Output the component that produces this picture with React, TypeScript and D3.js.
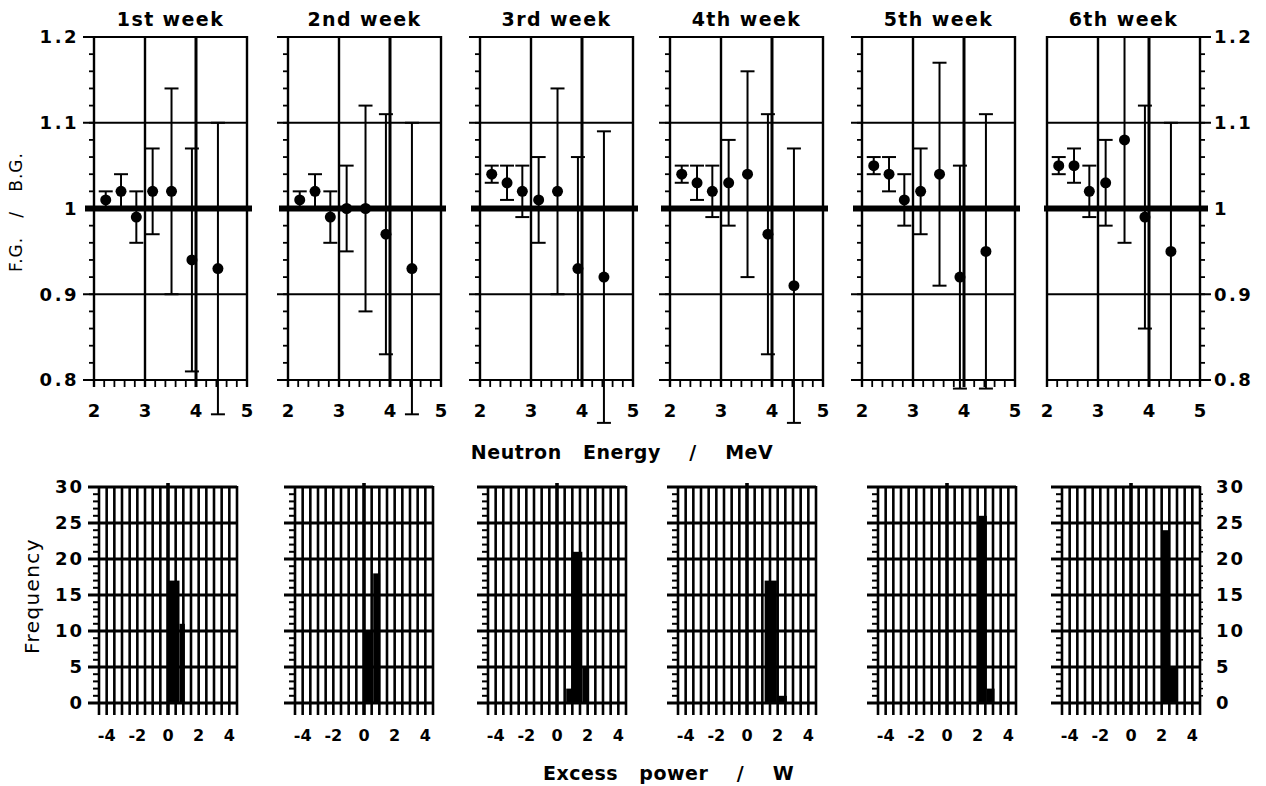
import React from "react";
import * as d3 from "d3";

// ---------- data ----------
const WEEK_TITLES = ["1st week", "2nd week", "3rd week", "4th week", "5th week", "6th week"];
const ENERGY_MEV = [2.23, 2.53, 2.83, 3.15, 3.52, 3.92, 4.43];

const RATIO_W1 = [1.01, 1.02, 0.99, 1.02, 1.02, 0.94, 0.93];
const ERR_W1 = [0.01, 0.02, 0.03, 0.05, 0.12, 0.13, 0.17];
const RATIO_W2 = [1.01, 1.02, 0.99, 1.0, 1.0, 0.97, 0.93];
const ERR_W2 = [0.01, 0.02, 0.03, 0.05, 0.12, 0.14, 0.17];
const RATIO_W3 = [1.04, 1.03, 1.02, 1.01, 1.02, 0.93, 0.92];
const ERR_W3 = [0.01, 0.02, 0.03, 0.05, 0.12, 0.13, 0.17];
const RATIO_W4 = [1.04, 1.03, 1.02, 1.03, 1.04, 0.97, 0.91];
const ERR_W4 = [0.01, 0.02, 0.03, 0.05, 0.12, 0.14, 0.16];
const RATIO_W5 = [1.05, 1.04, 1.01, 1.02, 1.04, 0.92, 0.95];
const ERR_W5 = [0.01, 0.02, 0.03, 0.05, 0.13, 0.13, 0.16];
const RATIO_W6 = [1.05, 1.05, 1.02, 1.03, 1.08, 0.99, 0.95];
const ERR_W6 = [0.01, 0.02, 0.03, 0.05, 0.12, 0.13, 0.15];

// histogram bins of excess power (W) and counts
const HIST_W1 = [{ from: 0.0, to: 0.75, count: 17 }, { from: 0.75, to: 1.1, count: 11 }];
const HIST_W2 = [{ from: -0.05, to: 0.6, count: 10 }, { from: 0.6, to: 1.05, count: 18 }];
const HIST_W3 = [{ from: 0.6, to: 1.0, count: 2 }, { from: 1.0, to: 1.65, count: 21 }, { from: 1.65, to: 2.1, count: 5 }];
const HIST_W4 = [{ from: 1.15, to: 1.95, count: 17 }, { from: 1.95, to: 2.6, count: 1 }];
const HIST_W5 = [{ from: 2.0, to: 2.6, count: 26 }, { from: 2.6, to: 3.1, count: 2 }];
const HIST_W6 = [{ from: 2.0, to: 2.5, count: 24 }, { from: 2.5, to: 3.05, count: 5 }];

const RATIO_TICKS = [0.8, 0.9, 1.0, 1.1, 1.2];
const RATIO_TICK_LABELS = ["0.8", "0.9", "1", "1.1", "1.2"];
const ENERGY_TICKS = [2, 3, 4, 5];
const FREQ_TICKS = [0, 5, 10, 15, 20, 25, 30];
const POWER_TICKS = [-4, -2, 0, 2, 4];

const RATIOS = [RATIO_W1, RATIO_W2, RATIO_W3, RATIO_W4, RATIO_W5, RATIO_W6];
const ERRORS = [ERR_W1, ERR_W2, ERR_W3, ERR_W4, ERR_W5, ERR_W6];
const HISTS = [HIST_W1, HIST_W2, HIST_W3, HIST_W4, HIST_W5, HIST_W6];

// ---------- layout ----------
const W = 1266;
const H = 786;
const TOP_LEFTS = [94, 288, 480, 670, 862, 1047];
const TOP_W = 153;
const TOP_Y_TOP = 37;
const TOP_Y_BOT = 380;
const BOT_LEFTS = [99, 295, 488, 678, 878, 1062];
const BOT_W = 138;
const BOT_Y_TOP = 487;
const BOT_Y_BOT = 703;

const FONT = "'DejaVu Sans', 'Liberation Sans', Arial, sans-serif";

function TopPanel({ i }: { i: number }) {
  const L = TOP_LEFTS[i];
  const R = L + TOP_W;
  const x = d3.scaleLinear().domain([2, 5]).range([L, R]);
  const y = d3.scaleLinear().domain([0.8, 1.2]).range([TOP_Y_BOT, TOP_Y_TOP]);
  const rightSide = i === 5;
  const minorY = d3.range(0.8, 1.2001, 0.02);
  const minorX = d3.range(2.2, 4.9, 0.2).filter((v) => Math.abs(v - Math.round(v)) > 0.05);
  const ratio = RATIOS[i];
  const err = ERRORS[i];
  const cap = 7;
  return (
    <g>
      <text
        x={(L + R) / 2}
        y={26}
        textAnchor="middle"
        fontFamily={FONT}
        fontWeight="bold"
        fontSize={19}
        letterSpacing={1.4}
      >
        {WEEK_TITLES[i]}
      </text>
      {minorY.map((v, k) => (
        <line
          key={"my" + k}
          x1={rightSide ? R : L - 5}
          x2={rightSide ? R + 5 : L}
          y1={y(v)}
          y2={y(v)}
          stroke="#000"
          strokeWidth={1.8}
        />
      ))}
      {RATIO_TICKS.filter((v) => v !== 1.0).map((v) => (
        <line
          key={"hy" + v}
          x1={rightSide ? L : L - 11}
          x2={rightSide ? R + 11 : R}
          y1={y(v)}
          y2={y(v)}
          stroke="#000"
          strokeWidth={2.2}
        />
      ))}
      {minorX.map((v, k) => (
        <line key={"mx" + k} x1={x(v)} x2={x(v)} y1={y(0.8)} y2={y(0.8) + 7} stroke="#000" strokeWidth={1.8} />
      ))}
      {ENERGY_TICKS.map((v) => (
        <line
          key={"vx" + v}
          x1={x(v)}
          x2={x(v)}
          y1={y(1.2) - 1}
          y2={y(0.8) + 7}
          stroke="#000"
          strokeWidth={v === 4 ? 3 : 2.4}
        />
      ))}
      <line
        x1={rightSide ? L - 3 : L - 9}
        x2={rightSide ? R + 8 : R + 5}
        y1={y(1.0)}
        y2={y(1.0)}
        stroke="#000"
        strokeWidth={6}
      />
      {ENERGY_MEV.map((e, k) => {
        const hi = ratio[k] + err[k];
        const lo = ratio[k] - err[k];
        return (
          <g key={"eb" + k}>
            <line x1={x(e)} x2={x(e)} y1={y(hi)} y2={y(lo)} stroke="#000" strokeWidth={2} />
            <line x1={x(e) - cap} x2={x(e) + cap} y1={y(hi)} y2={y(hi)} stroke="#000" strokeWidth={2} />
            <line x1={x(e) - cap} x2={x(e) + cap} y1={y(lo)} y2={y(lo)} stroke="#000" strokeWidth={2} />
          </g>
        );
      })}
      {ENERGY_MEV.map((e, k) => (
        <circle key={"pt" + k} cx={x(e)} cy={y(ratio[k])} r={5.5} fill="#000" />
      ))}
      {ENERGY_TICKS.map((v) => (
        <text
          key={"xl" + v}
          x={x(v)}
          y={417}
          textAnchor="middle"
          fontFamily={FONT}
          fontWeight="bold"
          fontSize={18}
        >
          {v}
        </text>
      ))}
      {(i === 0 || i === 5) &&
        RATIO_TICKS.map((v, k) => (
          <text
            key={"yl" + v}
            x={i === 0 ? L - 15 : R + 14}
            y={y(v)}
            dy="0.36em"
            textAnchor={i === 0 ? "end" : "start"}
            fontFamily={FONT}
            fontWeight="bold"
            fontSize={18}
            letterSpacing={2.5}
          >
            {RATIO_TICK_LABELS[k]}
          </text>
        ))}
    </g>
  );
}

function BottomPanel({ i }: { i: number }) {
  const L = BOT_LEFTS[i];
  const R = L + BOT_W;
  const x = d3.scaleLinear().domain([-4.5, 4.5]).range([L, R]);
  const y = d3.scaleLinear().domain([0, 30]).range([BOT_Y_BOT, BOT_Y_TOP]);
  const vLines = d3.range(-4.5, 4.51, 0.5);
  const minorY = d3.range(0, 31, 1).filter((v) => v % 5 !== 0);
  const hist = HISTS[i];
  return (
    <g>
      {hist.map((b, k) => (
        <rect
          key={"b" + k}
          x={x(b.from)}
          y={y(b.count)}
          width={x(b.to) - x(b.from)}
          height={y(0) - y(b.count)}
          fill="#000"
        />
      ))}
      {minorY.map((v) => (
        <line key={"my" + v} x1={L - 6} x2={L} y1={y(v)} y2={y(v)} stroke="#000" strokeWidth={2} />
      ))}
      {i === 5 &&
        minorY.map((v) => (
          <line key={"myr" + v} x1={R} x2={R + 3} y1={y(v)} y2={y(v)} stroke="#000" strokeWidth={1.5} />
        ))}
      {FREQ_TICKS.map((v) => (
        <line key={"hy" + v} x1={L - 11} x2={R} y1={y(v)} y2={y(v)} stroke="#000" strokeWidth={2.8} />
      ))}
      {vLines.map((v, k) => (
        <line
          key={"vx" + k}
          x1={x(v)}
          x2={x(v)}
          y1={Math.abs(v) < 0.01 ? y(30) - 4 : y(30) - 1}
          y2={y(0) + 12}
          stroke="#000"
          strokeWidth={Math.abs(v) < 0.01 ? 3.6 : 2.6}
        />
      ))}
      {POWER_TICKS.map((v) => (
        <text
          key={"xl" + v}
          x={x(v)}
          y={741}
          textAnchor="middle"
          fontFamily={FONT}
          fontWeight="bold"
          fontSize={16}
        >
          {v < 0 ? "-" + Math.abs(v) : String(v)}
        </text>
      ))}
      {(i === 0 || i === 5) &&
        FREQ_TICKS.map((v) => (
          <text
            key={"yl" + v}
            x={i === 0 ? L - 15 : R + 16}
            y={y(v)}
            dy="0.36em"
            textAnchor={i === 0 ? "end" : "start"}
            fontFamily={FONT}
            fontWeight="bold"
            fontSize={18}
            letterSpacing={2}
          >
            {v}
          </text>
        ))}
    </g>
  );
}

export default function App() {
  return (
    <div style={{ position: "absolute", left: 0, top: 0 }}>
      <svg width={W} height={H} viewBox={`0 0 ${W} ${H}`} style={{ display: "block", background: "#fff" }}>
        <rect x={0} y={0} width={W} height={H} fill="#fff" />
        {WEEK_TITLES.map((_, i) => (
          <TopPanel key={"t" + i} i={i} />
        ))}
        {WEEK_TITLES.map((_, i) => (
          <BottomPanel key={"b" + i} i={i} />
        ))}
        <text
          x={622}
          y={459}
          textAnchor="middle"
          fontFamily={FONT}
          fontWeight="bold"
          fontSize={19}
          letterSpacing={0.5}
          style={{ whiteSpace: "pre" }}
        >
          {"Neutron   Energy    /    MeV"}
        </text>
        <text
          x={543}
          y={780}
          textAnchor="start"
          fontFamily={FONT}
          fontWeight="bold"
          fontSize={19}
          letterSpacing={0.5}
          style={{ whiteSpace: "pre" }}
        >
          {"Excess   power    /    W"}
        </text>
        <text
          transform="translate(16,212) rotate(-90)"
          textAnchor="middle"
          dy="0.36em"
          fontFamily={FONT}
          fontSize={17}
          letterSpacing={1}
          style={{ whiteSpace: "pre" }}
        >
          {"F.G.   /   B.G."}
        </text>
        <text
          transform="translate(32,596) rotate(-90)"
          textAnchor="middle"
          dy="0.36em"
          fontFamily={FONT}
          fontSize={20}
          letterSpacing={1.4}
        >
          Frequency
        </text>
      </svg>
    </div>
  );
}
